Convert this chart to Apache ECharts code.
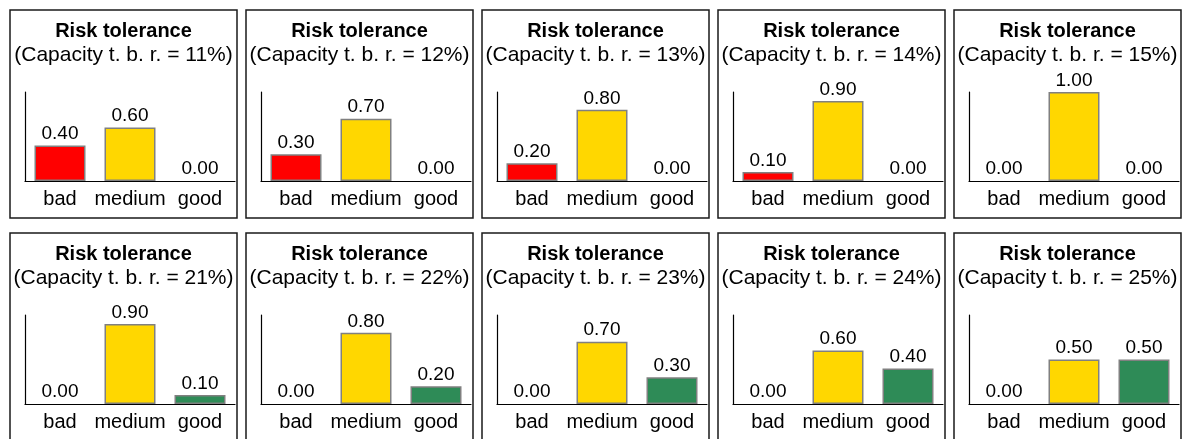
<!DOCTYPE html>
<html><head><meta charset="utf-8">
<script src="https://cdn.jsdelivr.net/npm/echarts@6/dist/echarts.min.js"></script>
<style>html,body{margin:0;padding:0;background:#fff}#c{width:1187px;height:439px}</style>
</head><body><div id="c"></div>
<script>
const categories = ['bad', 'medium', 'good'];
const capacities = ['11%', '12%', '13%', '14%', '15%', '21%', '22%', '23%', '24%', '25%'];
const badValues    = [0.40, 0.30, 0.20, 0.10, 0.00, 0.00, 0.00, 0.00, 0.00, 0.00];
const mediumValues = [0.60, 0.70, 0.80, 0.90, 1.00, 0.90, 0.80, 0.70, 0.60, 0.50];
const goodValues   = [0.00, 0.00, 0.00, 0.00, 0.00, 0.10, 0.20, 0.30, 0.40, 0.50];
const colors = ['#FF0000', '#FFD700', '#2E8B57'];

const FONT = '"Liberation Sans", Arial, sans-serif';
const PW = 227, PH = 208, PX = 236, PY = 223, X0 = 10, Y0 = 10;

const grids = [], xAxes = [], yAxes = [], series = [], titles = [], graphics = [];
capacities.forEach((cap, i) => {
  const col = i % 5, row = Math.floor(i / 5);
  const px = X0 + col * PX, py = Y0 + row * PY;
  graphics.push({type: 'rect', shape: {x: px, y: py, width: PW, height: PH},
    style: {fill: 'none', stroke: '#1a1a1a', lineWidth: 1.5}, z: 10});
  titles.push({text: 'Risk tolerance', left: px + PW / 2, top: py + 10, textAlign: 'center',
    textStyle: {fontFamily: FONT, fontSize: 20, fontWeight: 'bold', color: '#000', lineHeight: 22}, padding: 0});
  titles.push({text: '(Capacity t. b. r. = ' + cap + ')', left: px + PW / 2, top: py + 34, textAlign: 'center',
    textStyle: {fontFamily: FONT, fontSize: 21, fontWeight: 'normal', color: '#000', lineHeight: 22}, padding: 0});
  grids.push({left: px + 15, top: py + 82, width: 210, height: 89});
  xAxes.push({type: 'category', gridIndex: i, data: categories,
    axisLine: {show: true, lineStyle: {color: '#000', width: 1.2}}, axisTick: {show: false},
    axisLabel: {interval: 0, hideOverlap: false, fontFamily: FONT, fontSize: 20, color: '#000', margin: 8}});
  yAxes.push({type: 'value', gridIndex: i, min: 0, max: 1,
    axisLine: {show: true, lineStyle: {color: '#000', width: 1.2}}, axisTick: {show: false},
    axisLabel: {show: false}, splitLine: {show: false}});
  series.push({type: 'bar', xAxisIndex: i, yAxisIndex: i, barWidth: 51,
    data: [badValues[i], mediumValues[i], goodValues[i]].map((v, k) => ({value: v,
      itemStyle: {color: colors[k], borderColor: v > 0 ? '#808080' : 'transparent', borderWidth: 1.5}})),
    label: {show: true, position: 'top', distance: 2, fontFamily: FONT, fontSize: 19, color: '#000',
      formatter: p => p.value.toFixed(2)},
    animation: false});
});

const chart = echarts.init(document.getElementById('c'), null, {renderer: 'canvas'});
chart.setOption({animation: false, title: titles, grid: grids, xAxis: xAxes, yAxis: yAxes,
  series: series, graphic: graphics});
</script></body></html>
